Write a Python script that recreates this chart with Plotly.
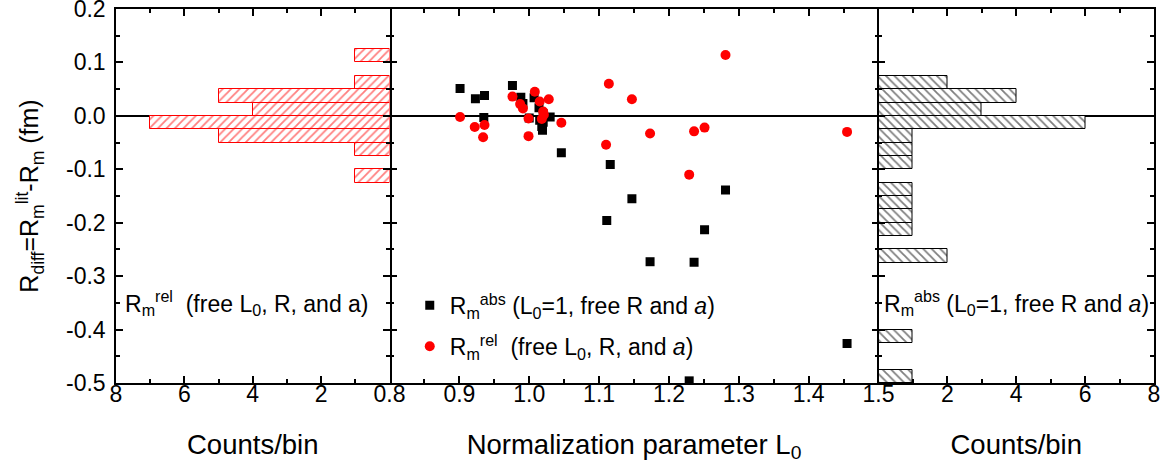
import plotly.graph_objects as go

# ---------------- data ----------------
abs_L0 = [0.901, 0.923, 0.936, 0.935, 0.976, 0.988, 0.991, 1.007, 1.014, 1.020,
          1.030, 1.018, 1.020, 1.000, 1.015, 1.019, 1.046, 1.116, 1.281, 1.147,
          1.111, 1.251, 1.173, 1.236, 1.455, 1.229]
abs_R = [0.051, 0.032, 0.038, -0.003, 0.057, 0.035, 0.023, 0.034, 0.015, 0.004,
         -0.002, -0.020, -0.012, -0.004, -0.008, -0.027, -0.069, -0.091, -0.139, -0.155,
         -0.196, -0.213, -0.273, -0.274, -0.426, -0.496]

rel_L0 = [0.901, 0.922, 0.936, 0.934, 0.976, 0.987, 0.991, 0.999, 0.999, 1.008,
          1.015, 1.028, 1.021, 1.018, 1.046, 1.114, 1.110, 1.147, 1.281, 1.173,
          1.236, 1.251, 1.229, 1.455, 1.020]
rel_R = [-0.002, -0.021, -0.017, -0.040, 0.036, 0.022, 0.014, -0.005, -0.038, 0.045,
         0.027, 0.031, 0.002, -0.006, -0.013, 0.060, -0.054, 0.031, 0.114, -0.033,
         -0.029, -0.022, -0.110, -0.030, 0.008]

bin_width = 0.025
rel_bin_centers = [0.1125, 0.0625, 0.0375, 0.0125, -0.0125, -0.0375, -0.0625, -0.1125]
rel_counts = [1, 1, 5, 4, 7, 5, 1, 1]
abs_bin_centers = [0.0625, 0.0375, 0.0125, -0.0125, -0.0375, -0.0625, -0.0875,
                   -0.1375, -0.1625, -0.1875, -0.2125, -0.2625, -0.4125, -0.4875]
abs_counts = [2, 4, 3, 6, 1, 1, 1, 1, 1, 1, 1, 2, 1, 1]

count_ticks = [0, 2, 4, 6, 8]
count_ticktext = ["", "2", "4", "6", "8"]
count_minor = [1, 3, 5, 7]
y_ticks = [-0.5, -0.4, -0.3, -0.2, -0.1, 0.0, 0.1, 0.2]

FONT = "Arial, Liberation Sans, sans-serif"

fig = go.Figure()

# left histogram (rel)
fig.add_trace(go.Bar(
    y=rel_bin_centers, x=rel_counts, orientation="h", width=bin_width,
    xaxis="x", yaxis="y", showlegend=False,
    marker=dict(color="white", line=dict(color="red", width=1),
                pattern=dict(shape="/", fgcolor="red", bgcolor="white", size=6, solidity=0.3)),
))
# right histogram (abs)
fig.add_trace(go.Bar(
    y=abs_bin_centers, x=abs_counts, orientation="h", width=bin_width,
    xaxis="x3", yaxis="y3", showlegend=False,
    marker=dict(color="white", line=dict(color="black", width=1),
                pattern=dict(shape="\\", fgcolor="black", bgcolor="white", size=6, solidity=0.3)),
))
# scatter
fig.add_trace(go.Scatter(
    x=abs_L0, y=abs_R, mode="markers", xaxis="x2", yaxis="y2",
    marker=dict(symbol="square", size=9, color="black"),
    legendgroup="abs",
    name="R<sub>m</sub><sup>abs</sup> (L<sub>0</sub>=1, free R and <i>a</i>)",
))
fig.add_trace(go.Scatter(
    x=rel_L0, y=rel_R, mode="markers", xaxis="x2", yaxis="y2",
    marker=dict(symbol="circle", size=10, color="red"),
    legendgroup="rel",
    name="R<sub>m</sub><sup>rel</sup>  (free L<sub>0</sub>, R, and <i>a</i>)",
))

W_total = 1038.0
d1 = 273.5 / W_total
d2 = (273.5 + 489.0) / W_total

tickfont = dict(family=FONT, size=23, color="black")
titlefont = dict(family=FONT, size=27.5, color="black")
textfont = dict(family=FONT, size=23, color="black")

minor_tick = dict(ticks="inside", ticklen=4, tickwidth=1.5, tickcolor="black")

common_x = dict(showline=True, linecolor="black", linewidth=1.5, mirror="ticks",
                ticks="inside", ticklen=7, tickwidth=1.5, tickcolor="black",
                showgrid=False, zeroline=False, tickfont=tickfont, automargin=False,
                ticklabelstandoff=-10)
common_y = dict(linecolor="black", linewidth=1.5, mirror="ticks",
                ticks="inside", ticklen=7, tickwidth=1.5, tickcolor="black",
                showgrid=False, zeroline=True, zerolinecolor="black", zerolinewidth=2,
                range=[-0.5, 0.2], tickmode="array", tickvals=y_ticks,
                minor=dict(minor_tick, tickmode="linear", tick0=0, dtick=0.05),
                domain=[0, 1], automargin=False)

fig.update_layout(
    width=1169, height=469,
    margin=dict(l=116, r=15, t=9, b=86),
    plot_bgcolor="white", paper_bgcolor="white",
    font=dict(family=FONT, size=23, color="black"),
    bargap=0,
    xaxis=dict(common_x, domain=[0, d1], range=[8, 0], tickmode="array",
               tickvals=count_ticks, ticktext=count_ticktext,
               minor=dict(minor_tick, tickvals=count_minor),
               title=dict(text="Counts/bin", font=titlefont, standoff=28)),
    xaxis2=dict(common_x, domain=[d1, d2], range=[0.8, 1.5], tickmode="linear",
                tick0=0.8, dtick=0.1, tickformat=".1f",
                minor=dict(minor_tick, dtick=0.05),
                title=dict(text="Normalization parameter L<sub>0</sub>", font=titlefont, standoff=28)),
    xaxis3=dict(common_x, domain=[d2, 1], range=[0, 8], tickmode="array",
                tickvals=count_ticks, ticktext=count_ticktext,
                minor=dict(minor_tick, tickvals=count_minor),
                title=dict(text="Counts/bin", font=titlefont, standoff=28)),
    yaxis=dict(common_y, anchor="x", showline=True, ticktext=[f"{v:.1f}" for v in y_ticks],
               tickfont=tickfont, ticklabelstandoff=4, ticklabeloverflow="allow",
               title=dict(text="R<sub>diff</sub>=R<sub>m</sub><sup>lit</sup>-R<sub>m</sub> (fm)",
                          font=dict(family=FONT, size=25, color="black"), standoff=20)),
    yaxis2=dict(common_y, anchor="x2", matches="y", showline=False, showticklabels=False),
    yaxis3=dict(common_y, anchor="x3", matches="y", showline=True, showticklabels=False),
    legend=dict(x=0.283, y=0.265, xanchor="left", yanchor="top", tracegroupgap=8,
                bgcolor="rgba(0,0,0,0)", font=textfont),
    annotations=[
        dict(text="R<sub>m</sub><sup>rel</sup>  (free L<sub>0</sub>, R, and a)",
             xref="paper", yref="paper", x=0.007, y=0.215, xanchor="left", yanchor="middle",
             showarrow=False, font=textfont),
        dict(text="R<sub>m</sub><sup>abs</sup> (L<sub>0</sub>=1, free R and <i>a</i>)",
             xref="paper", yref="paper", x=0.738, y=0.215, xanchor="left", yanchor="middle",
             showarrow=False, font=textfont),
    ],
)

# remove the default page margin so the 1169x469 figure fills the window exactly
fig.write_html("out.html", config={"displayModeBar": False},
               post_script="document.body.style.margin='0';")
